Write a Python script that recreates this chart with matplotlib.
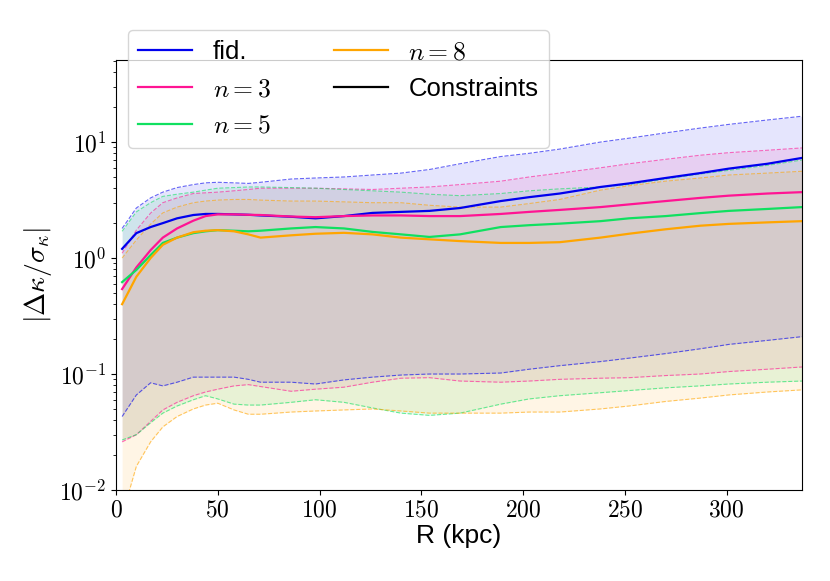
import numpy as np
import matplotlib
matplotlib.use('Agg')
import matplotlib.pyplot as plt
from matplotlib.ticker import FuncFormatter, NullFormatter

plt.rcParams['font.family'] = 'Liberation Sans'
plt.rcParams['mathtext.fontset'] = 'cm'

# radius grid (kpc)
R = [3, 10, 17, 23, 30, 38, 44, 50, 58, 65, 71, 86, 98, 112, 126, 140, 154, 169,
     189, 203, 218, 238, 252, 270, 287, 301, 320, 337]

# central curves
fid_mid = [1.2, 1.64, 1.85, 2.0, 2.2, 2.35, 2.4, 2.4, 2.38, 2.36, 2.33, 2.27, 2.2, 2.3,
           2.45, 2.5, 2.55, 2.7, 3.1, 3.35, 3.6, 4.1, 4.4, 4.9, 5.4, 5.9, 6.5, 7.3]
n3_mid = [0.54, 0.83, 1.17, 1.5, 1.8, 2.1, 2.3, 2.38, 2.38, 2.36, 2.35, 2.28, 2.25, 2.3,
          2.33, 2.33, 2.3, 2.3, 2.4, 2.5, 2.6, 2.75, 2.9, 3.1, 3.3, 3.45, 3.6, 3.7]
n5_mid = [0.62, 0.79, 1.06, 1.35, 1.5, 1.64, 1.7, 1.74, 1.72, 1.7, 1.72, 1.8, 1.85, 1.8,
          1.68, 1.6, 1.52, 1.6, 1.85, 1.92, 1.98, 2.08, 2.2, 2.3, 2.44, 2.55, 2.65, 2.75]
n8_mid = [0.40, 0.69, 1.0, 1.3, 1.5, 1.67, 1.72, 1.74, 1.7, 1.6, 1.5, 1.57, 1.62, 1.65,
          1.6, 1.5, 1.45, 1.4, 1.35, 1.35, 1.37, 1.5, 1.62, 1.77, 1.9, 1.97, 2.03, 2.08]

# upper edges of the bands
fid_hi = [1.8, 2.7, 3.3, 3.7, 4.05, 4.3, 4.45, 4.5, 4.45, 4.4, 4.5, 4.8, 4.9, 5.0,
          5.2, 5.4, 5.8, 6.5, 7.5, 8.0, 8.7, 10.0, 10.8, 12.0, 13.2, 14.2, 15.5, 16.7]
n3_hi = [1.1, 1.74, 2.44, 3.0, 3.3, 3.6, 3.65, 3.7, 3.8, 3.9, 4.0, 4.0, 4.0, 3.95,
         3.9, 4.0, 4.1, 4.3, 4.6, 5.0, 5.4, 6.0, 6.5, 7.1, 7.7, 8.1, 8.5, 8.9]
n5_hi = [1.7, 2.5, 3.0, 3.4, 3.55, 3.7, 3.85, 4.0, 4.05, 4.1, 4.1, 4.05, 4.0, 3.9,
         3.8, 3.7, 3.55, 3.45, 3.6, 3.8, 3.95, 4.1, 4.3, 4.8, 5.3, 5.7, 6.3, 7.0]
n8_hi = [1.0, 1.43, 1.96, 2.45, 2.75, 3.0, 3.1, 3.16, 3.2, 3.2, 3.16, 3.1, 3.1, 3.05,
         3.0, 3.0, 2.85, 2.75, 2.75, 2.95, 3.2, 3.85, 4.2, 4.6, 4.9, 5.2, 5.4, 5.6]

# lower edges of the bands
fid_lo = [0.043, 0.066, 0.084, 0.079, 0.085, 0.094, 0.094, 0.094, 0.094, 0.09, 0.085,
          0.085, 0.082, 0.089, 0.094, 0.098, 0.1, 0.1, 0.102, 0.11, 0.118, 0.128, 0.137,
          0.15, 0.165, 0.18, 0.195, 0.21]
n3_lo = [0.026, 0.030, 0.039, 0.049, 0.057, 0.065, 0.07, 0.074, 0.079, 0.081, 0.078,
         0.071, 0.074, 0.077, 0.085, 0.092, 0.093, 0.087, 0.085, 0.087, 0.09, 0.092,
         0.093, 0.097, 0.1, 0.105, 0.11, 0.115]
n5_lo = [0.027, 0.030, 0.038, 0.046, 0.053, 0.06, 0.065, 0.061, 0.055, 0.054, 0.054,
         0.057, 0.06, 0.057, 0.051, 0.046, 0.044, 0.046, 0.055, 0.061, 0.065, 0.069,
         0.072, 0.076, 0.079, 0.082, 0.085, 0.087]
n8_lo = [0.006, 0.016, 0.026, 0.035, 0.043, 0.050, 0.054, 0.056, 0.049, 0.045, 0.045,
         0.047, 0.048, 0.049, 0.05, 0.048, 0.046, 0.046, 0.046, 0.047, 0.047, 0.05,
         0.053, 0.058, 0.062, 0.066, 0.07, 0.073]

labels = ['fid.', '$n=3$', '$n=5$', '$n=8$']
colors = ['#0000ee', '#ff1493', '#10e060', '#ffa500']
mids = [fid_mid, n3_mid, n5_mid, n8_mid]
his = [fid_hi, n3_hi, n5_hi, n8_hi]
los = [fid_lo, n3_lo, n5_lo, n8_lo]

fig = plt.figure(figsize=(8.3, 5.81), dpi=100)
ax = fig.add_axes([116 / 830, 1 - 490 / 581, 686 / 830, 430 / 581])

for lo, hi, c in zip(los, his, colors):
    ax.fill_between(R, lo, hi, color=c, alpha=0.1, lw=0)
    ax.plot(R, lo, '--', color=c, lw=0.8, alpha=0.6)
    ax.plot(R, hi, '--', color=c, lw=0.8, alpha=0.6)

for mid, c, lab in zip(mids, colors, labels):
    ax.plot(R, mid, color=c, lw=1.6, label=lab)
ax.plot([], [], color='k', lw=1.6, label='Constraints')

ax.set_yscale('log')
ax.set_xlim(0, 337)
ax.set_ylim(1e-2, 51)

ax.xaxis.set_major_formatter(FuncFormatter(lambda v, p: f'${v:g}$'))
ax.yaxis.set_major_formatter(FuncFormatter(lambda v, p: f'$10^{{{int(round(np.log10(v)))}}}$'))
ax.yaxis.set_minor_formatter(NullFormatter())
ax.tick_params(labelsize=17)

ax.set_xlabel('R (kpc)', fontsize=19, labelpad=2)
ax.set_ylabel(r'$|\Delta\kappa/\sigma_\kappa|$', fontsize=20, labelpad=4)

ax.legend(ncol=2, fontsize=18.5, loc='upper left', bbox_to_anchor=(0.0175, 1.07),
          borderaxespad=0, handlelength=2.1, columnspacing=2.45)

fig.savefig('out.png', dpi=100)
